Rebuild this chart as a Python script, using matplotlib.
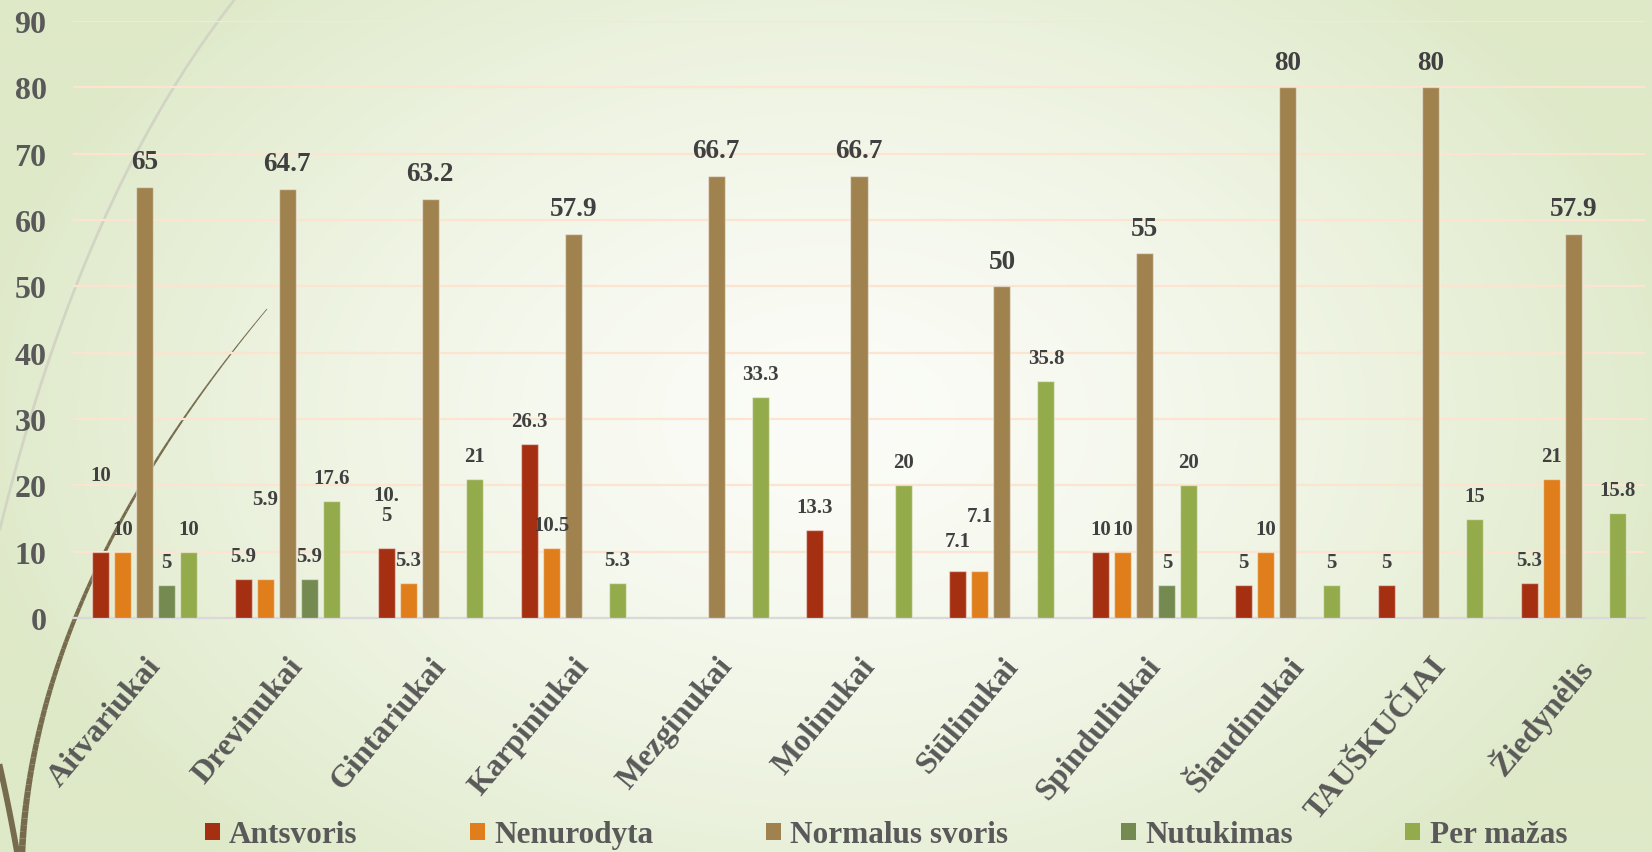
import numpy as np
import matplotlib
matplotlib.use("Agg")
import matplotlib.pyplot as plt
from matplotlib.collections import LineCollection

plt.rcParams['font.family'] = ['Liberation Serif', 'DejaVu Serif']
plt.rcParams['font.weight'] = 'bold'

categories = ["Aitvariukai", "Drevinukai", "Gintariukai", "Karpiniukai", "Mezginukai",
              "Molinukai", "Siūlinukai", "Spinduliukai", "Šiaudinukai", "TAUŠKUČIAI", "Žiedynėlis"]
series = ["Antsvoris", "Nenurodyta", "Normalus svoris", "Nutukimas", "Per mažas"]
nan = np.nan
antsvoris = [10, 5.9, 10.5, 26.3, nan, 13.3, 7.1, 10, 5, 5, 5.3]
nenurodyta = [10, 5.9, 5.3, 10.5, nan, nan, 7.1, 10, 10, nan, 21]
normalus = [65, 64.7, 63.2, 57.9, 66.7, 66.7, 50, 55, 80, 80, 57.9]
nutukimas = [5, 5.9, nan, nan, nan, nan, nan, 5, nan, nan, nan]
per_mazas = [10, 17.6, 21, 5.3, 33.3, 20, 35.8, 20, 5, 15, 15.8]
values = [antsvoris, nenurodyta, normalus, nutukimas, per_mazas]
colors = ["#A52F11", "#DF7E1A", "#A0824F", "#748A50", "#94AB4B"]

# labels that were dragged away from their bars in the original (series, category): points up
label_shift = {(0, 0): 39, (1, 1): 41, (0, 2): 15, (1, 6): 23, (0, 6): 5}

fig = plt.figure(figsize=(16.52, 8.53), dpi=100)

# background gradient + grass decoration
bg = fig.add_axes([0, 0, 1, 1], zorder=-5)
W, H = 1652, 853
yy, xx = np.mgrid[0:H:4, 0:W:4]
d = np.sqrt(((xx - 830) / 880.0) ** 2 + ((yy - 420) / 600.0) ** 2)
d = np.clip(d, 0, 1) ** 1.5
c_in = np.array([251, 252, 247]) / 255.0
c_out = np.array([222, 233, 200]) / 255.0
img = c_in[None, None, :] * (1 - d[..., None]) + c_out[None, None, :] * d[..., None]
bg.imshow(img, extent=[0, W, H, 0], aspect='auto', interpolation='bilinear')
bg.set_xlim(0, W)
bg.set_ylim(H, 0)
bg.axis('off')


def bezier(p0, c, p2, n=80):
    t = np.linspace(0, 1, n)[:, None]
    return (1 - t) ** 2 * np.array(p0) + 2 * (1 - t) * t * np.array(c) + t ** 2 * np.array(p2)


light = bezier((235, 0), (82, 195), (0, 530))
bg.plot(light[:, 0], light[:, 1], color="#D3D5C4", lw=2.0)
dark = bezier((267, 310), (35, 588), (22, 853))
segs = np.stack([dark[:-1], dark[1:]], axis=1)
bg.add_collection(LineCollection(segs, colors="#776B4E", linewidths=np.linspace(0.6, 4.8, len(segs))))
blade = bezier((0, 768), (9, 808), (17, 853))
bg.plot(blade[:, 0], blade[:, 1], color="#776B4E", lw=4.2)

ax = fig.add_axes([73 / W, 1 - 619 / H, (1645 - 73) / W, (619 - 22) / H])
ax.set_facecolor('none')

x = np.arange(len(categories))
step = 0.154
bw = 0.119
for i, (name, vals, col) in enumerate(zip(series, values, colors)):
    xs = x + (i - 2) * step
    ax.bar(xs, vals, width=bw, color=col, edgecolor=(1, 1, 1, 0.45), linewidth=1.0,
           label=name, zorder=3)
    for j, v in enumerate(vals):
        if np.isnan(v):
            continue
        big = (i == 2)
        txt = "10.\n5" if (i, j) == (0, 2) else "{:g}".format(v)
        off = (18 if big else 16.5) + label_shift.get((i, j), 0)
        ax.annotate(txt, (xs[j], v), xytext=(0, off), textcoords='offset points',
                    ha='center', va='center', fontsize=19.5 if big else 15,
                    fontweight='bold', color="#404040", linespacing=1.0, zorder=4)

ax.set_xlim(-0.5, len(categories) - 0.5)
ax.set_ylim(0, 90)
ax.set_yticks(np.arange(0, 91, 10))
ax.yaxis.grid(True, color="#FCE4D0", lw=1.6, zorder=0)
ax.set_axisbelow(True)
for s in ['top', 'right', 'left']:
    ax.spines[s].set_visible(False)
ax.spines['bottom'].set_color("#D9D9D9")
ax.spines['bottom'].set_linewidth(1.6)
ax.tick_params(axis='y', length=0, pad=19, labelsize=23, labelcolor="#595959")
ax.tick_params(axis='x', length=0, pad=24, labelsize=23, labelcolor="#595959")
ax.set_xticks(x)
ax.set_xticklabels(categories, rotation=50, ha='right', va='top', rotation_mode='anchor')
for lbl in ax.get_yticklabels() + ax.get_xticklabels():
    lbl.set_fontweight('bold')

leg = fig.legend(loc='center', bbox_to_anchor=(886 / W, 1 - 836 / H), ncol=5, frameon=False,
                 fontsize=22.5, handlelength=0.48, handleheight=0.48, handletextpad=0.3,
                 columnspacing=3.6, borderpad=0)
for t in leg.get_texts():
    t.set_color("#595959")
    t.set_fontweight('bold')
for h in leg.legend_handles:
    h.set_edgecolor('none')

fig.savefig("out.png", dpi=100)
